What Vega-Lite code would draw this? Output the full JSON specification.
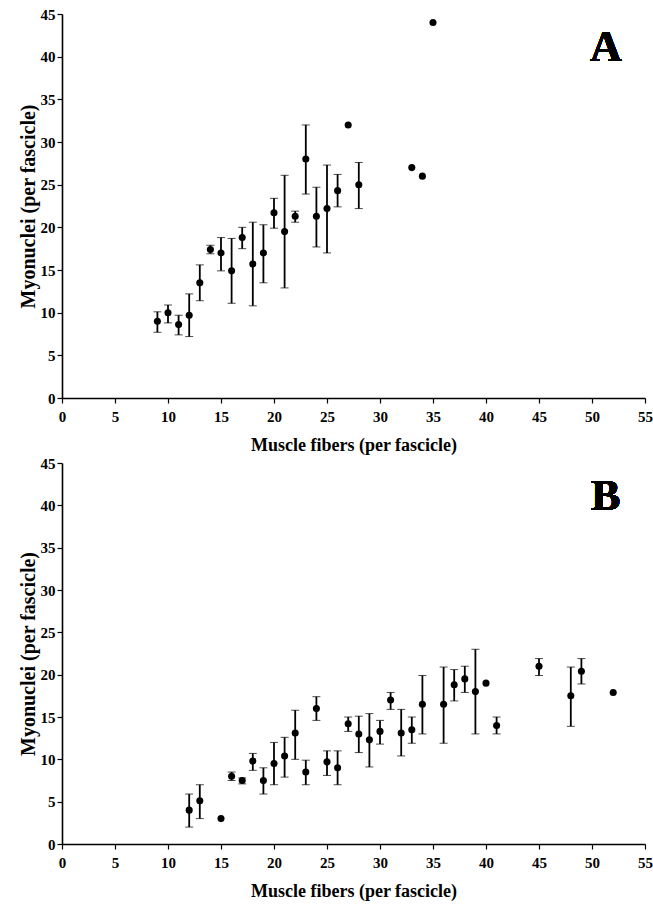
{
  "$schema": "https://vega.github.io/schema/vega-lite/v6.json",
  "background": "white",
  "padding": {"left": 18, "top": 7, "right": 2, "bottom": 2},
  "spacing": 2,
  "datasets": {
    "a": [
      {"fibers": 9, "nuclei": 9.0, "lo": 7.7, "hi": 10.1},
      {"fibers": 10, "nuclei": 10.0, "lo": 8.8, "hi": 10.9},
      {"fibers": 11, "nuclei": 8.6, "lo": 7.4, "hi": 9.7},
      {"fibers": 12, "nuclei": 9.7, "lo": 7.2, "hi": 12.2},
      {"fibers": 13, "nuclei": 13.5, "lo": 11.4, "hi": 15.6},
      {"fibers": 14, "nuclei": 17.4, "lo": 16.9, "hi": 17.9},
      {"fibers": 15, "nuclei": 17.0, "lo": 14.9, "hi": 18.8},
      {"fibers": 16, "nuclei": 14.9, "lo": 11.1, "hi": 18.7},
      {"fibers": 17, "nuclei": 18.8, "lo": 17.5, "hi": 20.0},
      {"fibers": 18, "nuclei": 15.7, "lo": 10.8, "hi": 20.6},
      {"fibers": 19, "nuclei": 17.0, "lo": 13.5, "hi": 20.3},
      {"fibers": 20, "nuclei": 21.7, "lo": 19.9, "hi": 23.4},
      {"fibers": 21, "nuclei": 19.5, "lo": 12.9, "hi": 26.1},
      {"fibers": 22, "nuclei": 21.3, "lo": 20.6, "hi": 21.9},
      {"fibers": 23, "nuclei": 28.0, "lo": 23.9, "hi": 32.0},
      {"fibers": 24, "nuclei": 21.3, "lo": 17.7, "hi": 24.7},
      {"fibers": 25, "nuclei": 22.2, "lo": 17.0, "hi": 27.3},
      {"fibers": 26, "nuclei": 24.3, "lo": 22.4, "hi": 26.2},
      {"fibers": 27, "nuclei": 32.0, "lo": null, "hi": null},
      {"fibers": 28, "nuclei": 25.0, "lo": 22.2, "hi": 27.6},
      {"fibers": 33, "nuclei": 27.0, "lo": null, "hi": null},
      {"fibers": 34, "nuclei": 26.0, "lo": null, "hi": null},
      {"fibers": 35, "nuclei": 44.0, "lo": null, "hi": null}
    ],
    "b": [
      {"fibers": 12, "nuclei": 4.0, "lo": 2.0, "hi": 5.9},
      {"fibers": 13, "nuclei": 5.1, "lo": 3.0, "hi": 7.0},
      {"fibers": 15, "nuclei": 3.0, "lo": null, "hi": null},
      {"fibers": 16, "nuclei": 8.0, "lo": 7.5, "hi": 8.5},
      {"fibers": 17, "nuclei": 7.5, "lo": 7.1, "hi": 7.8},
      {"fibers": 18, "nuclei": 9.8, "lo": 8.7, "hi": 10.7},
      {"fibers": 19, "nuclei": 7.5, "lo": 5.9, "hi": 9.0},
      {"fibers": 20, "nuclei": 9.5, "lo": 7.0, "hi": 12.0},
      {"fibers": 21, "nuclei": 10.4, "lo": 7.9, "hi": 12.6},
      {"fibers": 22, "nuclei": 13.1, "lo": 10.0, "hi": 15.8},
      {"fibers": 23, "nuclei": 8.5, "lo": 7.0, "hi": 9.9},
      {"fibers": 24, "nuclei": 16.0, "lo": 14.6, "hi": 17.4},
      {"fibers": 25, "nuclei": 9.7, "lo": 8.1, "hi": 11.0},
      {"fibers": 26, "nuclei": 9.0, "lo": 7.0, "hi": 11.0},
      {"fibers": 27, "nuclei": 14.2, "lo": 13.3, "hi": 15.0},
      {"fibers": 28, "nuclei": 13.0, "lo": 10.8, "hi": 15.1},
      {"fibers": 29, "nuclei": 12.3, "lo": 9.1, "hi": 15.4},
      {"fibers": 30, "nuclei": 13.3, "lo": 11.8, "hi": 14.6},
      {"fibers": 31, "nuclei": 17.0, "lo": 15.9, "hi": 17.9},
      {"fibers": 32, "nuclei": 13.1, "lo": 10.4, "hi": 15.9},
      {"fibers": 33, "nuclei": 13.5, "lo": 11.9, "hi": 15.0},
      {"fibers": 34, "nuclei": 16.5, "lo": 13.0, "hi": 19.9},
      {"fibers": 36, "nuclei": 16.5, "lo": 11.9, "hi": 20.9},
      {"fibers": 37, "nuclei": 18.8, "lo": 16.9, "hi": 20.6},
      {"fibers": 38, "nuclei": 19.5, "lo": 17.9, "hi": 21.0},
      {"fibers": 39, "nuclei": 18.0, "lo": 13.0, "hi": 23.0},
      {"fibers": 40, "nuclei": 19.0, "lo": null, "hi": null},
      {"fibers": 41, "nuclei": 14.0, "lo": 13.0, "hi": 15.0},
      {"fibers": 45, "nuclei": 21.0, "lo": 19.9, "hi": 21.9},
      {"fibers": 48, "nuclei": 17.5, "lo": 13.9, "hi": 20.9},
      {"fibers": 49, "nuclei": 20.4, "lo": 18.9, "hi": 21.9},
      {"fibers": 52, "nuclei": 17.9, "lo": null, "hi": null}
    ]
  },
  "vconcat": [
    {
      "width": 583,
      "height": 384,
      "data": {"name": "a"},
      "layer": [
        {
          "transform": [{"filter": "isValid(datum.lo)"}],
          "mark": {"type": "errorbar", "ticks": {"size": 8, "color": "black", "strokeWidth": 1.9}, "rule": {"color": "black", "strokeWidth": 1.8}},
          "encoding": {
            "x": {"field": "fibers", "type": "quantitative", "scale": {"domain": [0, 55], "nice": false}, "title": "Muscle fibers (per fascicle)"},
            "y": {"field": "lo", "type": "quantitative", "scale": {"domain": [0, 45], "nice": false}, "title": "Myonuclei (per fascicle)"},
            "y2": {"field": "hi"}
          }
        },
        {
          "mark": {"type": "point", "filled": true, "color": "black", "opacity": 1, "size": 50},
          "encoding": {
            "x": {"field": "fibers", "type": "quantitative", "scale": {"domain": [0, 55], "nice": false}, "title": "Muscle fibers (per fascicle)"},
            "y": {"field": "nuclei", "type": "quantitative", "scale": {"domain": [0, 45], "nice": false}, "title": "Myonuclei (per fascicle)"}
          }
        },
        {
          "mark": {"type": "text", "font": "Liberation Serif", "fontWeight": "bold", "fontSize": 44, "color": "black", "align": "center", "baseline": "middle"},
          "encoding": {
            "x": {"datum": 51.3, "type": "quantitative"},
            "y": {"datum": 41.0, "type": "quantitative"},
            "text": {"value": "A"}
          }
        }
      ]
    },
    {
      "width": 583,
      "height": 381,
      "data": {"name": "b"},
      "layer": [
        {
          "transform": [{"filter": "isValid(datum.lo)"}],
          "mark": {"type": "errorbar", "ticks": {"size": 8, "color": "black", "strokeWidth": 1.9}, "rule": {"color": "black", "strokeWidth": 1.8}},
          "encoding": {
            "x": {"field": "fibers", "type": "quantitative", "scale": {"domain": [0, 55], "nice": false}, "title": "Muscle fibers (per fascicle)"},
            "y": {"field": "lo", "type": "quantitative", "scale": {"domain": [0, 45], "nice": false}, "title": "Myonuclei (per fascicle)"},
            "y2": {"field": "hi"}
          }
        },
        {
          "mark": {"type": "point", "filled": true, "color": "black", "opacity": 1, "size": 50},
          "encoding": {
            "x": {"field": "fibers", "type": "quantitative", "scale": {"domain": [0, 55], "nice": false}, "title": "Muscle fibers (per fascicle)"},
            "y": {"field": "nuclei", "type": "quantitative", "scale": {"domain": [0, 45], "nice": false}, "title": "Myonuclei (per fascicle)"}
          }
        },
        {
          "mark": {"type": "text", "font": "Liberation Serif", "fontWeight": "bold", "fontSize": 44, "color": "black", "align": "center", "baseline": "middle"},
          "encoding": {
            "x": {"datum": 51.3, "type": "quantitative"},
            "y": {"datum": 41.0, "type": "quantitative"},
            "text": {"value": "B"}
          }
        }
      ]
    }
  ],
  "config": {
    "view": {"stroke": null},
    "axis": {
      "grid": false,
      "domainColor": "black",
      "domainWidth": 1.6,
      "tickColor": "black",
      "tickWidth": 1.2,
      "tickSize": 5,
      "labelFont": "Liberation Serif",
      "labelFontWeight": "bold",
      "labelFontSize": 15,
      "labelColor": "black",
      "titleFont": "Liberation Serif",
      "titleFontWeight": "bold",
      "titleColor": "black",
      "values": [0, 5, 10, 15, 20, 25, 30, 35, 40, 45, 50, 55]
    },
    "axisX": {"labelPadding": 6, "titleFontSize": 18, "titlePadding": 12, "labelFlush": false},
    "axisY": {"labelPadding": 2, "titleFontSize": 20, "titlePadding": 2, "values": [0, 5, 10, 15, 20, 25, 30, 35, 40, 45], "labelFlush": false}
  }
}
